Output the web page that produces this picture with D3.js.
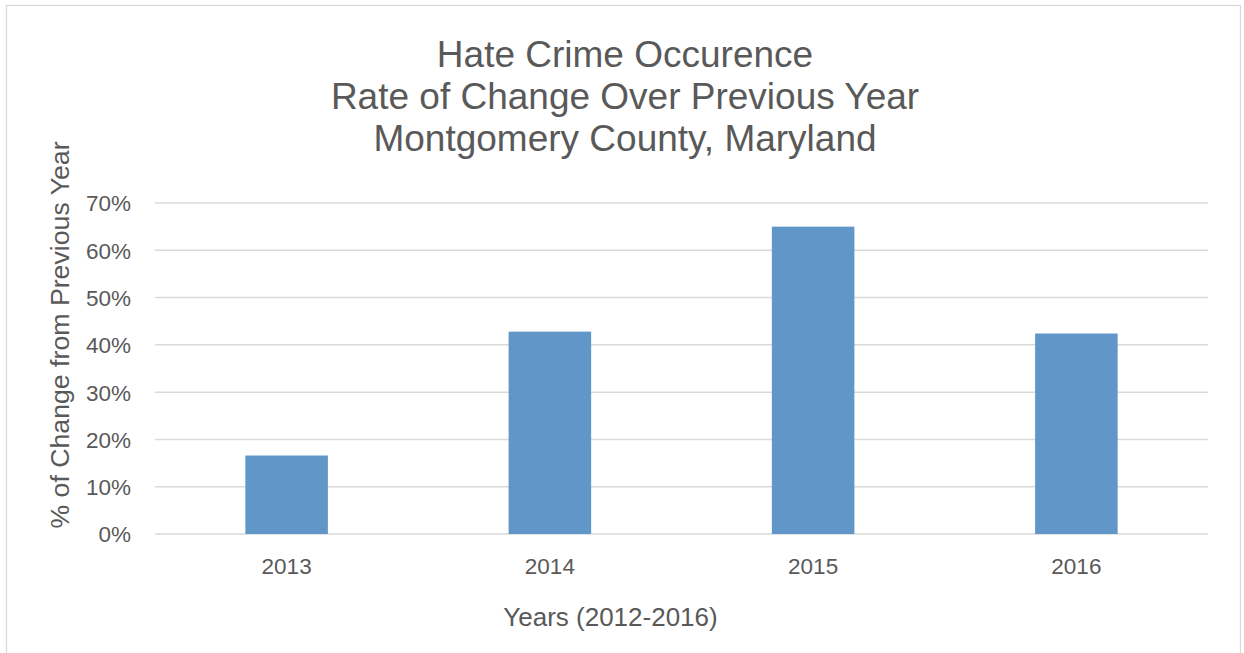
<!DOCTYPE html>
<html>
<head>
<meta charset="utf-8">
<script src="https://cdn.jsdelivr.net/npm/d3@7"></script>
<style>
    body { margin: 0; background: #fff; }
    text { font-family: "Liberation Sans", Arial, Helvetica, sans-serif; fill: #595959; }
</style>
</head>
<body>
<div id="chart"></div>
<script>
// chart data
const years = ["2013", "2014", "2015", "2016"];
const changeRates = [0.166, 0.428, 0.650, 0.424];
const yTicks = [0, 0.1, 0.2, 0.3, 0.4, 0.5, 0.6, 0.7];
const titleLines = ["Hate Crime Occurence", "Rate of Change Over Previous Year", "Montgomery County, Maryland"];
const xTitle = "Years (2012-2016)";
const yTitle = "% of Change from Previous Year";

const WIDTH = 1244,
    HEIGHT = 653;

const margin = { top: 203, right: 36, bottom: 119, left: 155 };
const plotW = WIDTH - margin.left - margin.right,
    plotH = HEIGHT - margin.top - margin.bottom;

const BAR_RATIO = 1 / 3.19; // excel gap width 219%

let svg = d3.select("#chart").append("svg")
    .attr("width", WIDTH)
    .attr("height", HEIGHT)
    .style("display", "block");

// chart area border
svg.append("rect")
    .attr("x", 6.5)
    .attr("y", 5.5)
    .attr("width", 1234)
    .attr("height", 660)
    .attr("fill", "none")
    .attr("stroke", "#d9d9d9")
    .attr("stroke-width", 1.3);

let g = svg.append("g")
    .attr("transform", `translate(${margin.left},${margin.top})`);

let x = d3.scaleBand()
    .domain(years)
    .range([0, plotW]);

let y = d3.scaleLinear()
    .domain([0, 0.7])
    .range([plotH, 0]);

// gridlines
g.append("g")
    .selectAll("line")
    .data(yTicks)
    .enter()
    .append("line")
    .attr("x1", 0)
    .attr("x2", plotW)
    .attr("y1", d => y(d))
    .attr("y2", d => y(d))
    .attr("stroke", "#d9d9d9")
    .attr("stroke-width", 1.5);

// y axis labels
let yAxis = g.append("g")
    .call(d3.axisLeft(y).tickValues(yTicks).tickFormat(d3.format(".0%")).tickSize(0).tickPadding(24));
yAxis.select(".domain").remove();
yAxis.selectAll("text")
    .style("font-size", "22.5px")
    .attr("dy", "0.35em")
    .attr("fill", "#595959");

// x axis labels
let xAxis = g.append("g")
    .attr("transform", `translate(0,${plotH})`)
    .call(d3.axisBottom(x).tickSize(0).tickPadding(0));
xAxis.select(".domain").remove();
xAxis.selectAll("text")
    .style("font-size", "22.5px")
    .attr("y", 40)
    .attr("dy", 0)
    .attr("fill", "#595959");

// bars
let barW = x.bandwidth() * BAR_RATIO;
g.append("g")
    .selectAll("rect")
    .data(changeRates)
    .enter()
    .append("rect")
    .attr("x", (d, i) => x(years[i]) + x.bandwidth() / 2 - barW / 2)
    .attr("y", d => y(d))
    .attr("width", barW)
    .attr("height", d => plotH - y(d))
    .attr("fill", "#6096c8");

// title
svg.append("g")
    .selectAll("text")
    .data(titleLines)
    .enter()
    .append("text")
    .attr("x", 625)
    .attr("y", (d, i) => 67 + i * 42)
    .attr("text-anchor", "middle")
    .style("font-size", "37px")
    .text(d => d);

// axis titles
svg.append("text")
    .attr("x", 610.5)
    .attr("y", 626)
    .attr("text-anchor", "middle")
    .style("font-size", "26px")
    .text(xTitle);

svg.append("text")
    .attr("transform", `translate(69,335) rotate(-90)`)
    .attr("text-anchor", "middle")
    .style("font-size", "26.7px")
    .text(yTitle);
</script>
</body>
</html>
